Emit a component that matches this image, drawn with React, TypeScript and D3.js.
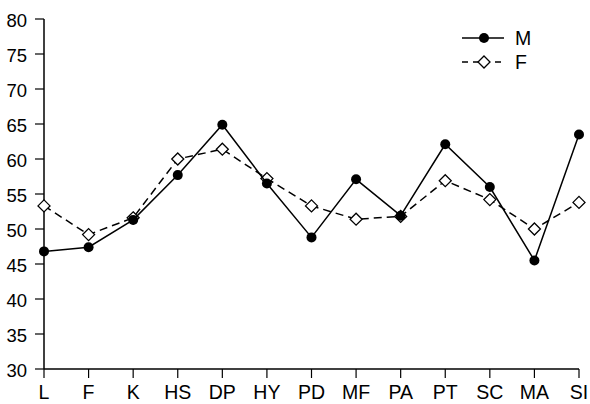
import React from 'react';
import * as d3 from 'd3';

const categories = ['L', 'F', 'K', 'HS', 'DP', 'HY', 'PD', 'MF', 'PA', 'PT', 'SC', 'MA', 'SI'];
const maleValues = [46.8, 47.4, 51.3, 57.7, 64.9, 56.5, 48.8, 57.1, 51.9, 62.1, 56.0, 45.5, 63.5];
const femaleValues = [53.3, 49.2, 51.6, 60.0, 61.4, 57.2, 53.3, 51.4, 51.8, 56.9, 54.2, 50.0, 53.8];
const yTicks = [30, 35, 40, 45, 50, 55, 60, 65, 70, 75, 80];

const width = 590;
const height = 404;
const margin = { top: 19, right: 11, bottom: 35, left: 44 };

export default function App() {
  const x = d3
    .scalePoint<string>()
    .domain(categories)
    .range([margin.left, width - margin.right]);
  const y = d3
    .scaleLinear()
    .domain([30, 80])
    .range([height - margin.bottom, margin.top]);

  const line = d3
    .line<number>()
    .x((_, i) => x(categories[i]) as number)
    .y(d => y(d));

  const font = 'Liberation Sans, Arial, sans-serif';
  const diamond = (cx: number, cy: number, s: number) =>
    `M${cx},${cy - s}L${cx + s},${cy}L${cx},${cy + s}L${cx - s},${cy}Z`;

  const legendX = 462;
  const legendY = 38;

  return (
    <svg
      width={width}
      height={height}
      style={{ position: 'absolute', left: 0, top: 0, background: '#fff' }}
      fontFamily={font}
    >
      {/* axes */}
      <line x1={margin.left} x2={margin.left} y1={y(80)} y2={y(30)} stroke="#000" strokeWidth={1.5} />
      <line x1={margin.left} x2={x('SI')} y1={y(30)} y2={y(30)} stroke="#000" strokeWidth={1.5} />
      {yTicks.map(t => (
        <g key={t}>
          <line x1={margin.left - 9} x2={margin.left} y1={y(t)} y2={y(t)} stroke="#000" strokeWidth={1.2} />
          <text x={27} y={y(t)} dy="0.42em" textAnchor="end" fontSize={18.5} fill="#000">
            {t}
          </text>
        </g>
      ))}
      {categories.map(c => (
        <g key={c}>
          <line x1={x(c)} x2={x(c)} y1={y(30)} y2={y(30) + 9} stroke="#000" strokeWidth={1.2} />
          <text x={x(c)} y={y(30) + 30} textAnchor="middle" fontSize={19.5} fill="#000">
            {c}
          </text>
        </g>
      ))}

      {/* F series */}
      <path d={line(femaleValues) || ''} fill="none" stroke="#000" strokeWidth={1.5} strokeDasharray="8,5" />
      {femaleValues.map((v, i) => (
        <path key={i} d={diamond(x(categories[i]) as number, y(v), 6)} fill="#fff" stroke="#000" strokeWidth={1.3} />
      ))}

      {/* M series */}
      <path d={line(maleValues) || ''} fill="none" stroke="#000" strokeWidth={1.5} />
      {maleValues.map((v, i) => (
        <circle key={i} cx={x(categories[i])} cy={y(v)} r={5} fill="#000" />
      ))}

      {/* legend */}
      <line x1={legendX} x2={legendX + 42} y1={legendY} y2={legendY} stroke="#000" strokeWidth={1.5} />
      <circle cx={legendX + 22} cy={legendY} r={5} fill="#000" />
      <text x={legendX + 53} y={legendY} dy="0.38em" fontSize={19.5}>M</text>
      <line x1={legendX} x2={legendX + 42} y1={legendY + 24} y2={legendY + 24} stroke="#000" strokeWidth={1.5} strokeDasharray="6,5" />
      <path d={diamond(legendX + 22, legendY + 24, 6)} fill="#fff" stroke="#000" strokeWidth={1.3} />
      <text x={legendX + 53} y={legendY + 24} dy="0.38em" fontSize={19.5}>F</text>
    </svg>
  );
}
